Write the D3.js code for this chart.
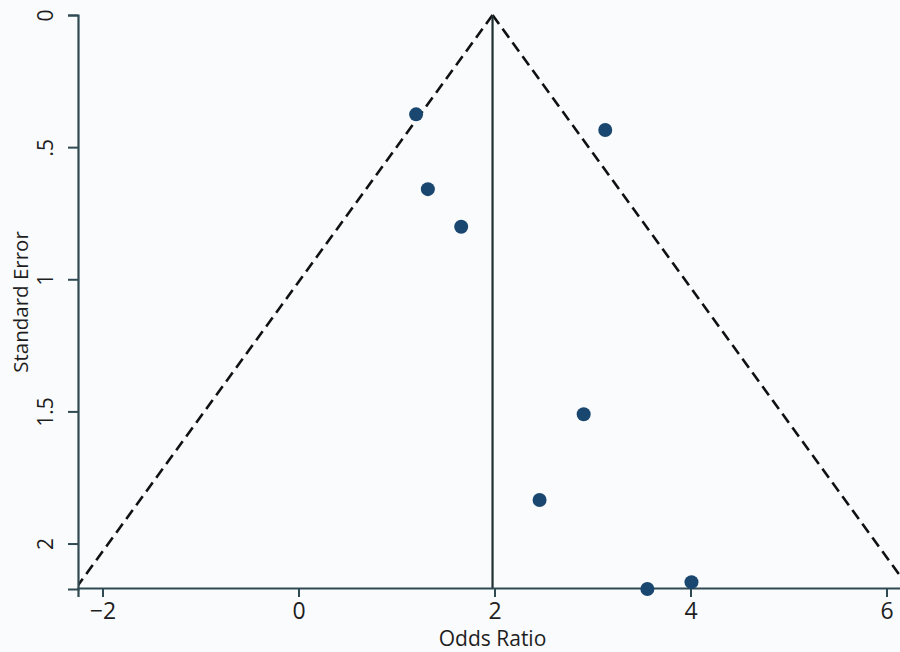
<!DOCTYPE html>
<html>
<head>
<meta charset="utf-8">
<script src="https://cdn.jsdelivr.net/npm/d3@7"></script>
<style>
  html, body { margin: 0; padding: 0; background: #fafbfd; }
  svg { display: block; }
  text { font-family: "Open Sans", "Noto Sans", sans-serif; fill: #1e1e1e; }
</style>
</head>
<body>
<svg id="chart" width="900" height="652"></svg>
<script>
// ---- data ----
const oddsRatio = [1.20, 3.13, 1.32, 1.66, 2.91, 2.46, 3.56, 4.01];
const stdError  = [0.376, 0.435, 0.659, 0.801, 1.511, 1.835, 2.172, 2.146];
const pooledEstimate = 1.98;
const xTickValues = [-2, 0, 2, 4, 6];
const yTickValues = [0, 0.5, 1, 1.5, 2];
const yTickLabels = ["0", ".5", "1", "1.5", "2"];
const xTitle = "Odds Ratio";
const yTitle = "Standard Error";

// ---- layout ----
const W = 900, H = 652;
const mLeft = 78, mTop = 15, mBottom = 589, mRight = 911;
const svg = d3.select("#chart");

const maxSE = d3.max(stdError);
const x = d3.scaleLinear().domain([-2.25, 6.25]).range([mLeft, mRight]);
const y = d3.scaleLinear().domain([0, maxSE]).range([mTop, mBottom]);

svg.append("rect").attr("width", W).attr("height", H).attr("fill", "#fafbfd");

svg.append("defs").append("clipPath").attr("id", "plotclip")
  .append("rect").attr("x", mLeft).attr("y", mTop - 5)
  .attr("width", mRight - mLeft + 20).attr("height", mBottom - mTop + 4);

const plot = svg.append("g").attr("clip-path", "url(#plotclip)");

// funnel (pseudo 95% limits)
const z = 1.96;
const funnel = [
  [[pooledEstimate, 0], [pooledEstimate - z * maxSE, maxSE]],
  [[pooledEstimate, 0], [pooledEstimate + z * maxSE, maxSE]]
];
const line = d3.line().x(d => x(d[0])).y(d => y(d[1]));
plot.selectAll("path.funnel").data(funnel).join("path")
  .attr("class", "funnel")
  .attr("d", line)
  .attr("fill", "none")
  .attr("stroke", "#111")
  .attr("stroke-width", 2.6)
  .attr("stroke-dasharray", "11,6");

// vertical line at pooled estimate
plot.append("line")
  .attr("x1", x(pooledEstimate)).attr("x2", x(pooledEstimate))
  .attr("y1", y(0)).attr("y2", y(maxSE))
  .attr("stroke", "#1f2e33").attr("stroke-width", 2.2);

// axes
const axisColor = "#2f4a52";
const xAxis = svg.append("g")
  .attr("transform", `translate(0,${mBottom - 1})`)
  .call(d3.axisBottom(x).tickValues(xTickValues).tickSizeOuter(0).tickSize(9).tickPadding(6)
        .tickFormat(d => d < 0 ? "\u2212" + Math.abs(d) : String(d)));
xAxis.select(".domain").attr("stroke", axisColor).attr("stroke-width", 2.2);
xAxis.selectAll(".tick line").attr("stroke", axisColor).attr("stroke-width", 2);
xAxis.selectAll(".tick text").attr("font-size", 23).attr("fill", "#1e1e1e")
  .attr("font-family", "'Open Sans', sans-serif");

const yAxis = svg.append("g")
  .attr("transform", `translate(${mLeft},0)`)
  .call(d3.axisLeft(y).tickValues(yTickValues).tickSizeOuter(0).tickSize(10)
        .tickFormat((d, i) => yTickLabels[i]));
yAxis.select(".domain").attr("stroke", axisColor).attr("stroke-width", 2.2);
yAxis.selectAll(".tick line").attr("stroke", axisColor).attr("stroke-width", 2);
yAxis.selectAll(".tick text")
  .attr("font-size", 21).attr("fill", "#1e1e1e")
  .attr("font-family", "'Open Sans', sans-serif")
  .attr("x", null).attr("dy", null)
  .attr("text-anchor", "middle")
  .attr("transform", "translate(-25,0) rotate(-90)");

// points
svg.append("g").selectAll("circle").data(oddsRatio).join("circle")
  .attr("cx", d => x(d))
  .attr("cy", (d, i) => y(stdError[i]))
  .attr("r", 7)
  .attr("fill", "#1a476f");

// titles
svg.append("text")
  .attr("x", x(pooledEstimate)).attr("y", 646)
  .attr("text-anchor", "middle").attr("font-size", 21)
  .text(xTitle);

svg.append("text")
  .attr("transform", `translate(28,${(mTop + mBottom) / 2}) rotate(-90)`)
  .attr("text-anchor", "middle").attr("font-size", 20.5)
  .text(yTitle);
</script>
</body>
</html>
